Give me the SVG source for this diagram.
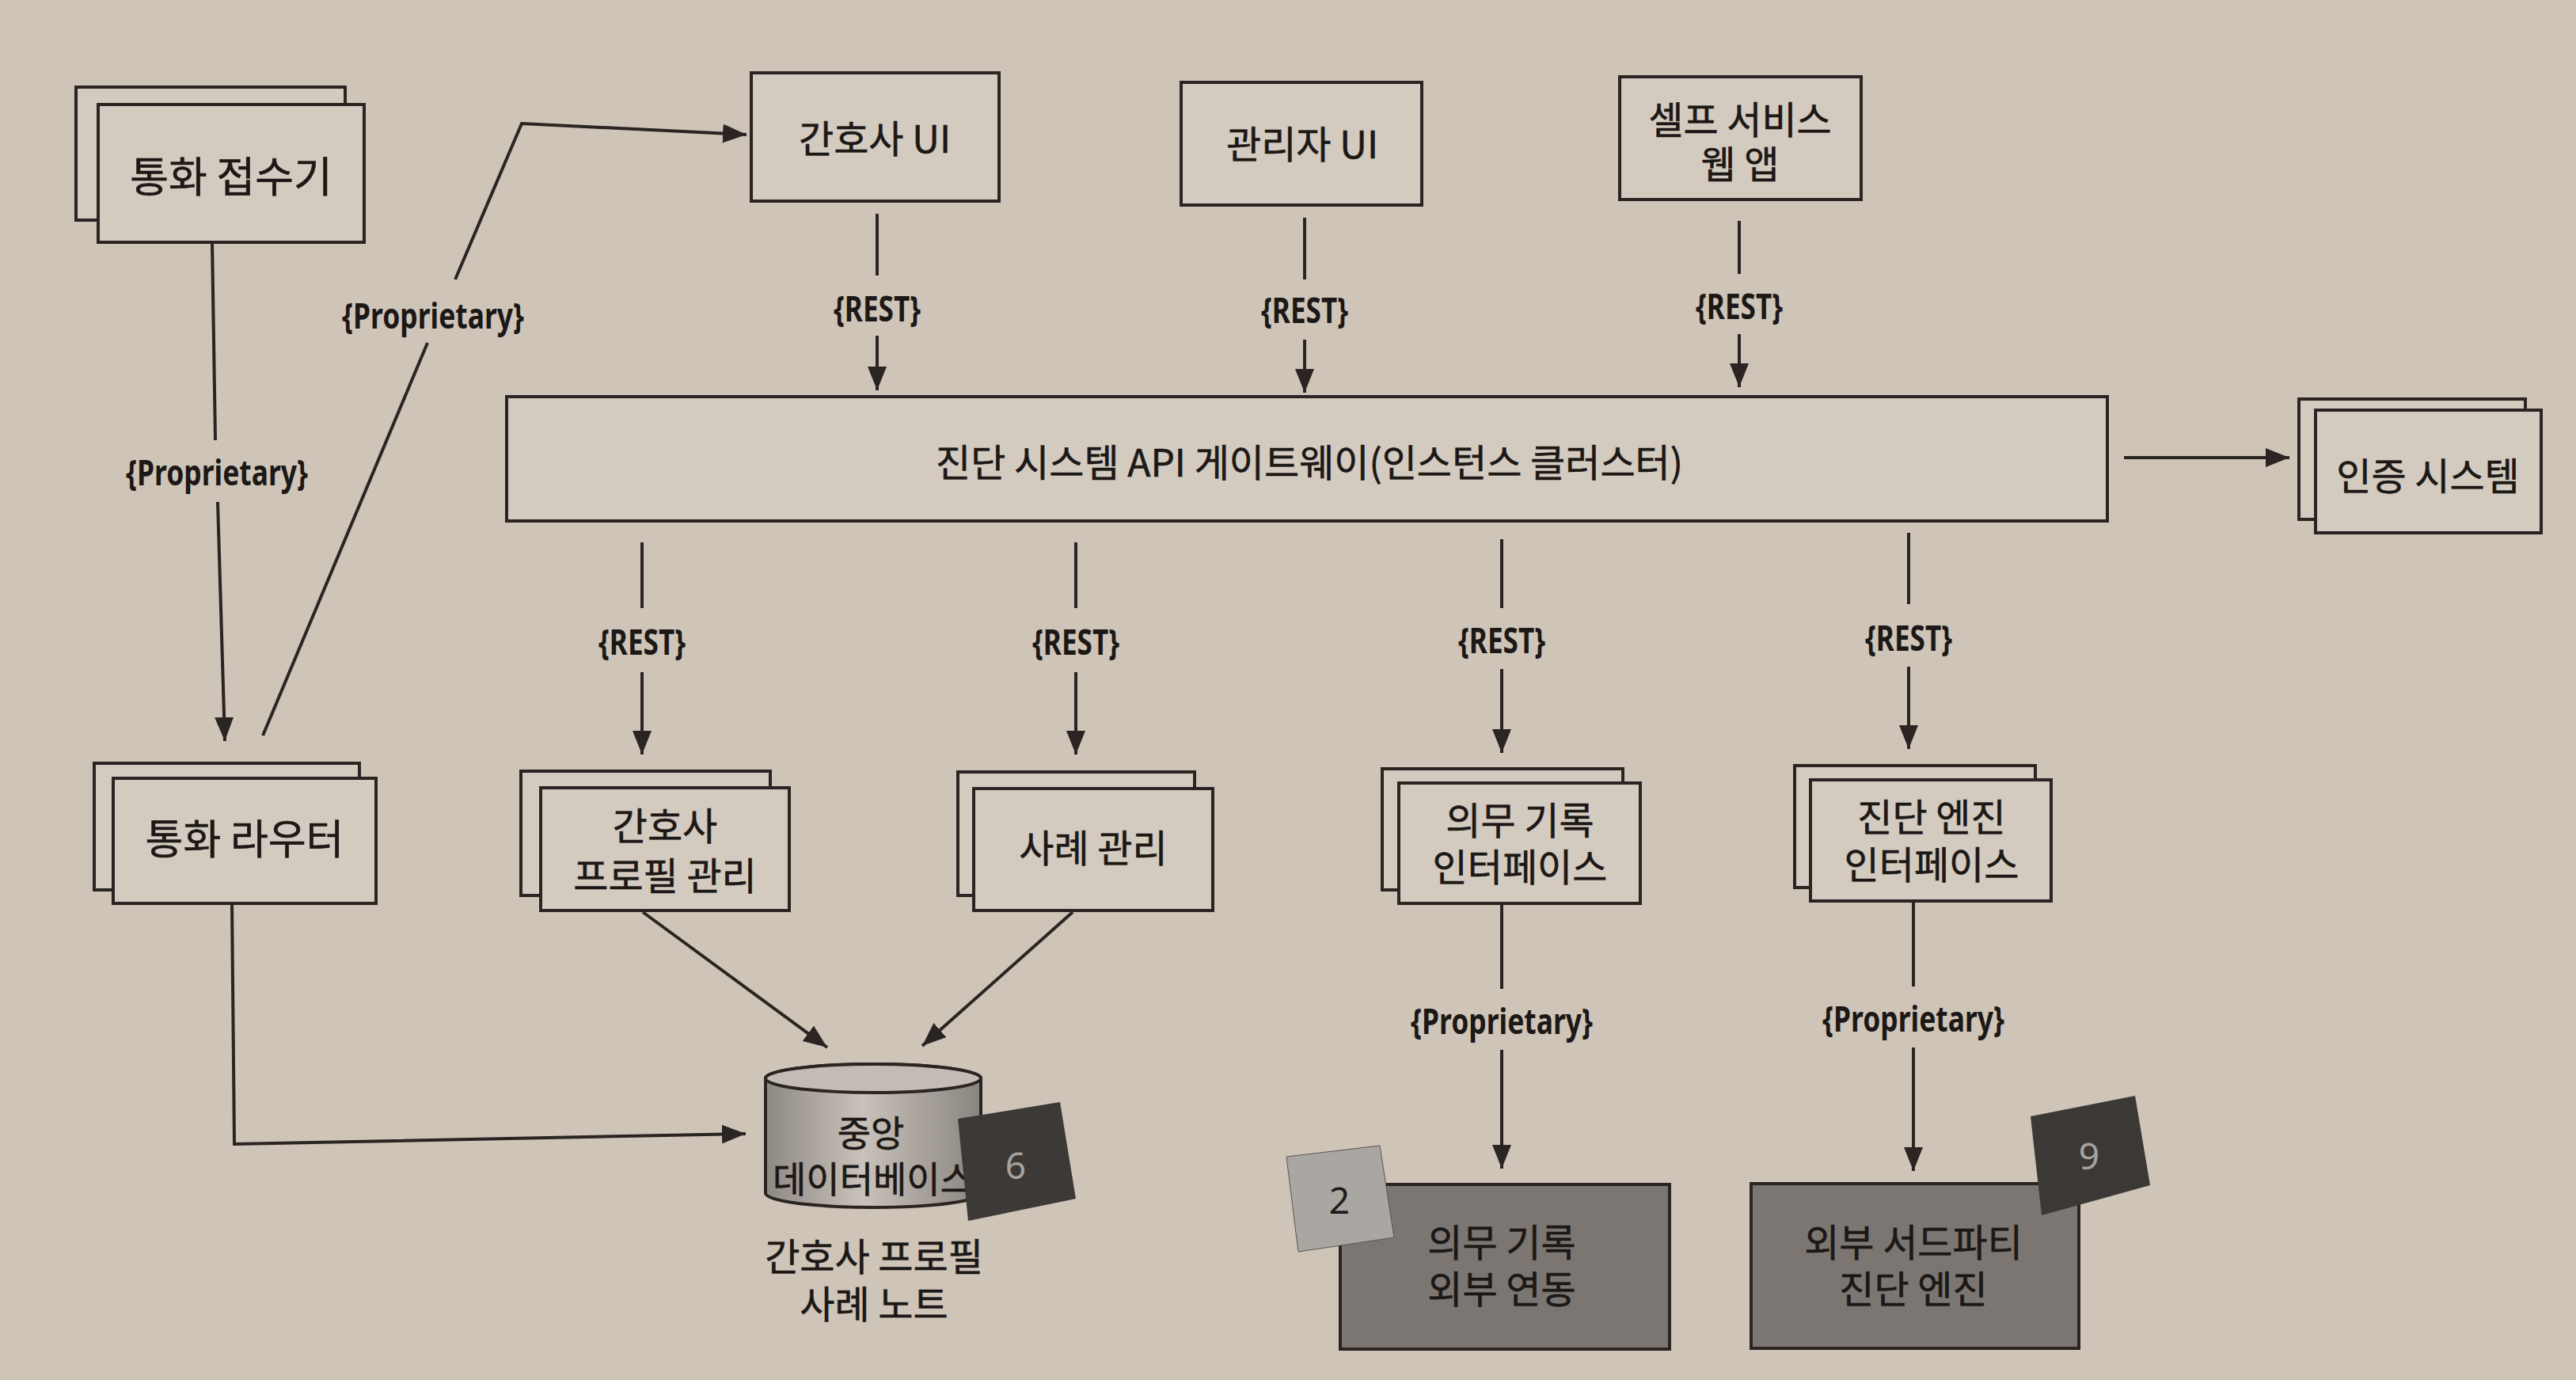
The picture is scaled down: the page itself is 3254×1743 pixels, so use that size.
<svg xmlns="http://www.w3.org/2000/svg" width="3254" height="1743" viewBox="0 0 3254 1743">
<style>
.box{fill:#d4cbc0;stroke:#2a2522;stroke-width:4}
.dark{fill:#7b7671;stroke:#2a2522;stroke-width:4}
.t{font-family:"Noto Sans CJK KR","Noto Sans",sans-serif;font-size:48px;fill:#1c1816;stroke:#1c1816;stroke-width:0.6;text-anchor:middle}
.lbl{font-family:"Noto Sans","Noto Sans CJK KR",sans-serif;font-size:44px;font-weight:bold;fill:#1c1816;text-anchor:middle}
.ln{stroke:#2a2522;stroke-width:4;fill:none}
.num{font-family:"Noto Sans","Liberation Sans",sans-serif;font-size:46px;text-anchor:middle}
</style>
<defs>
<marker id="arr" markerUnits="userSpaceOnUse" markerWidth="32" markerHeight="24" refX="30" refY="12" orient="auto">
<path d="M0,0 L30,12 L0,24 Z" fill="#2a2522"/>
</marker>
<linearGradient id="cyl" x1="0" y1="0" x2="1" y2="0">
<stop offset="0" stop-color="#8e8883"/>
<stop offset="0.45" stop-color="#c9c2ba"/>
<stop offset="1" stop-color="#8a8480"/>
</linearGradient>
</defs>
<rect x="0" y="0" width="3254" height="1743" fill="#cec4b8"/>

<g id="connectors">
<path class="ln" d="M268,306 L272,556"/>
<path class="ln" d="M275,634 L284,936" marker-end="url(#arr)"/>
<text class="lbl" x="274" y="613" textLength="230" lengthAdjust="spacingAndGlyphs">{Proprietary}</text>

<path class="ln" d="M332,929 L540,433"/>
<path class="ln" d="M575,353 L659,156 L943,170" marker-end="url(#arr)"/>
<text class="lbl" x="547" y="415" textLength="230" lengthAdjust="spacingAndGlyphs">{Proprietary}</text>

<path class="ln" d="M1108,270 V348"/>
<path class="ln" d="M1108,424 V493" marker-end="url(#arr)"/>
<text class="lbl" x="1108" y="406" textLength="110" lengthAdjust="spacingAndGlyphs">{REST}</text>

<path class="ln" d="M1648,275 V353"/>
<path class="ln" d="M1648,429 V496" marker-end="url(#arr)"/>
<text class="lbl" x="1648" y="408" textLength="110" lengthAdjust="spacingAndGlyphs">{REST}</text>

<path class="ln" d="M2197,279 V346"/>
<path class="ln" d="M2197,422 V489" marker-end="url(#arr)"/>
<text class="lbl" x="2197" y="403" textLength="110" lengthAdjust="spacingAndGlyphs">{REST}</text>

<path class="ln" d="M2683,578 H2892" marker-end="url(#arr)"/>

<path class="ln" d="M811,685 V768"/>
<path class="ln" d="M811,849 V953" marker-end="url(#arr)"/>
<text class="lbl" x="811" y="827" textLength="110" lengthAdjust="spacingAndGlyphs">{REST}</text>

<path class="ln" d="M1359,685 V768"/>
<path class="ln" d="M1359,849 V953" marker-end="url(#arr)"/>
<text class="lbl" x="1359" y="827" textLength="110" lengthAdjust="spacingAndGlyphs">{REST}</text>

<path class="ln" d="M1897,681 V768"/>
<path class="ln" d="M1897,845 V951" marker-end="url(#arr)"/>
<text class="lbl" x="1897" y="825" textLength="110" lengthAdjust="spacingAndGlyphs">{REST}</text>

<path class="ln" d="M2411,673 V763"/>
<path class="ln" d="M2411,842 V946" marker-end="url(#arr)"/>
<text class="lbl" x="2411" y="822" textLength="110" lengthAdjust="spacingAndGlyphs">{REST}</text>

<path class="ln" d="M812,1152 L1045,1323" marker-end="url(#arr)"/>
<path class="ln" d="M1355,1152 L1165,1321" marker-end="url(#arr)"/>
<path class="ln" d="M293,1141 L296,1445 L942,1432" marker-end="url(#arr)"/>

<path class="ln" d="M1897,1141 V1249"/>
<path class="ln" d="M1897,1326 V1476" marker-end="url(#arr)"/>
<text class="lbl" x="1897" y="1306" textLength="230" lengthAdjust="spacingAndGlyphs">{Proprietary}</text>

<path class="ln" d="M2417,1138 V1246"/>
<path class="ln" d="M2417,1323 V1479" marker-end="url(#arr)"/>
<text class="lbl" x="2417" y="1303" textLength="230" lengthAdjust="spacingAndGlyphs">{Proprietary}</text>
</g>

<g id="call-receiver">
<rect class="box" x="96" y="110" width="340" height="168"/>
<rect class="box" x="124" y="132" width="336" height="174"/>
<text class="t" x="292" y="243" style="font-size:53px">통화 접수기</text>
</g>

<g id="call-router">
<rect class="box" x="119" y="964" width="335" height="160"/>
<rect class="box" x="143" y="983" width="332" height="158"/>
<text class="t" x="309" y="1079" style="font-size:52px">통화 라우터</text>
</g>

<g id="nurse-ui">
<rect class="box" x="949" y="92" width="313" height="162"/>
<text class="t" x="1105" y="193">간호사 UI</text>
</g>

<g id="admin-ui">
<rect class="box" x="1492" y="104" width="304" height="155"/>
<text class="t" x="1645" y="200">관리자 UI</text>
</g>

<g id="self-service">
<rect class="box" x="2046" y="97" width="305" height="155"/>
<text class="t" x="2198" y="169">셀프 서비스<tspan x="2198" dy="56">웹 앱</tspan></text>
</g>

<g id="gateway">
<rect class="box" x="640" y="501" width="2022" height="157"/>
<text class="t" x="1654" y="602">진단 시스템 API 게이트웨이(인스턴스 클러스터)</text>
</g>

<g id="auth">
<rect class="box" x="2904" y="504" width="286" height="152"/>
<rect class="box" x="2925" y="518" width="285" height="155"/>
<text class="t" x="3067" y="619">인증 시스템</text>
</g>

<g id="nurse-profile">
<rect class="box" x="658" y="974" width="315" height="157"/>
<rect class="box" x="683" y="995" width="314" height="155"/>
<text class="t" x="840" y="1061">간호사<tspan x="840" dy="63">프로필 관리</tspan></text>
</g>

<g id="case-mgmt">
<rect class="box" x="1210" y="975" width="299" height="156"/>
<rect class="box" x="1230" y="996" width="302" height="154"/>
<text class="t" x="1381" y="1089">사례 관리</text>
</g>

<g id="medrec-if">
<rect class="box" x="1746" y="971" width="304" height="153"/>
<rect class="box" x="1767" y="989" width="305" height="152"/>
<text class="t" x="1920" y="1054">의무 기록<tspan x="1920" dy="59">인터페이스</tspan></text>
</g>

<g id="diag-if">
<rect class="box" x="2267" y="967" width="304" height="154"/>
<rect class="box" x="2287" y="985" width="304" height="153"/>
<text class="t" x="2440" y="1050">진단 엔진<tspan x="2440" dy="60">인터페이스</tspan></text>
</g>

<g id="central-db">
<path d="M967,1362 A136,18 0 0,1 1239,1362 L1239,1507 A136,18 0 0,1 967,1507 Z" fill="url(#cyl)" stroke="#2a2522" stroke-width="4"/>
<ellipse cx="1103" cy="1362" rx="136" ry="18" fill="#c3bcb4" stroke="#2a2522" stroke-width="4"/>
<text class="t" x="1100" y="1448" style="font-size:46px">중앙<tspan x="1103" dy="58">데이터베이스</tspan></text>
<polygon points="1210,1413 1339,1392 1359,1514 1223,1542" fill="#3d3937"/>
<text class="num" x="1283" y="1489" fill="#a8a29c">6</text>
<text class="t" x="1104" y="1605">간호사 프로필<tspan x="1104" dy="60">사례 노트</tspan></text>
</g>

<g id="medrec-ext">
<rect class="dark" x="1693" y="1496" width="416" height="208"/>
<text class="t" x="1897" y="1587">의무 기록<tspan x="1897" dy="59">외부 연동</tspan></text>
<polygon points="1625,1461 1743,1447 1761,1563 1640,1581" fill="#aaa6a1" stroke="#5a5552" stroke-width="1"/>
<text class="num" x="1692" y="1533" fill="#1f1b19">2</text>
</g>

<g id="third-party">
<rect class="dark" x="2212" y="1495" width="414" height="208"/>
<text class="t" x="2417" y="1587">외부 서드파티<tspan x="2417" dy="59">진단 엔진</tspan></text>
<polygon points="2565,1410 2697,1384 2716,1497 2579,1535" fill="#3b3836"/>
<text class="num" x="2639" y="1477" fill="#a8a29c">9</text>
</g>
</svg>
